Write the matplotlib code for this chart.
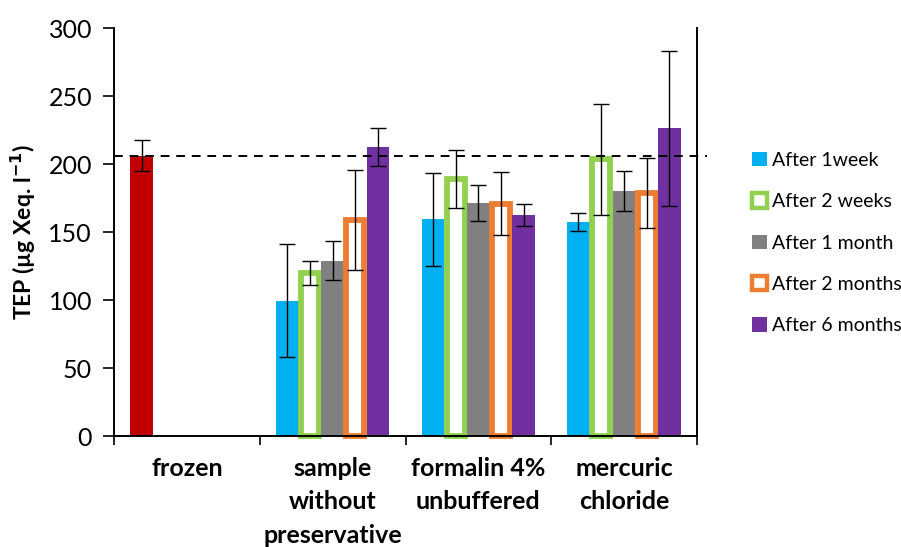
import matplotlib
matplotlib.use("Agg")
import matplotlib.pyplot as plt
from matplotlib.patches import Patch
import numpy as np

plt.rcParams['font.family'] = ['Lato', 'DejaVu Sans']

categories = ["frozen", "sample\nwithout\npreservative", "formalin 4%\nunbuffered", "mercuric\nchloride"]
series = ["After 1week", "After 2 weeks", "After 1 month", "After 2 months", "After 6 months"]
frozen_value = 206
frozen_err = 11.5
reference_line = 206
# values for the three preserved treatments (categories 1..3)
values = {
    "After 1week":    [99.5, 159.5, 157.2],
    "After 2 weeks":  [119.6, 189.0, 203.5],
    "After 1 month":  [129.0, 171.2, 180.4],
    "After 2 months": [158.8, 170.9, 178.4],
    "After 6 months": [212.5, 162.7, 226.2],
}
errors = {
    "After 1week":    [41.6, 34.2, 6.5],
    "After 2 weeks":  [8.8, 21.4, 40.7],
    "After 1 month":  [14.5, 13.3, 14.7],
    "After 2 months": [36.8, 23.0, 25.7],
    "After 6 months": [14.0, 8.1, 56.9],
}
colors = {
    "After 1week": "#00B0F0",
    "After 2 weeks": "#92D050",
    "After 1 month": "#808080",
    "After 2 months": "#ED7D31",
    "After 6 months": "#7030A0",
}
hollow = {"After 2 weeks", "After 2 months"}
frozen_color = "#C00000"
yticks = [0, 50, 100, 150, 200, 250, 300]

fig = plt.figure(figsize=(9.01, 5.47), dpi=100)
ax = fig.add_axes([114.3/901, 1-436/547, (696.7-114.3)/901, (436-28)/547])

bw = 0.156
ekw = dict(ecolor='black', elinewidth=1.0, capsize=5.5, capthick=1.0)

# frozen
ax.bar(0 - 2*bw, frozen_value, width=bw, color=frozen_color, zorder=2)
ax.errorbar(0 - 2*bw, frozen_value, yerr=frozen_err, fmt='none', zorder=4, **ekw)

xs = np.arange(1, 4)
handles = []
for i, s in enumerate(series):
    x = xs + (i - 2) * bw
    if s in hollow:
        ax.bar(x, values[s], width=bw*0.80, facecolor='white', edgecolor=colors[s],
               linewidth=4.2, zorder=2, clip_on=False)
        handles.append(Patch(facecolor='white', edgecolor=colors[s], linewidth=3.2, label=s))
    else:
        ax.bar(x, values[s], width=bw, color=colors[s], zorder=2)
        handles.append(Patch(facecolor=colors[s], edgecolor='none', label=s))
    ax.errorbar(x, values[s], yerr=errors[s], fmt='none', zorder=4, **ekw)

# reference dashed line
ax.plot([0, 1.018], [reference_line, reference_line], transform=ax.get_yaxis_transform(),
        color='black', linestyle=(0, (4.5, 3.5)), linewidth=1.4, clip_on=False, zorder=5)

ax.set_xlim(-0.5, 3.5)
ax.set_ylim(0, 300)
ax.set_yticks(yticks)
ax.set_yticklabels([str(v) for v in yticks], fontsize=18)
ax.tick_params(axis='y', direction='out', length=8, width=1.2, pad=8)

ax.set_xticks([-0.5, 0.5, 1.5, 2.5, 3.5])
ax.set_xticklabels([])
ax.tick_params(axis='x', which='major', direction='out', length=6.5, width=1.2)
ax.set_xticks([0, 1, 2, 3], minor=True)
ax.set_xticklabels(categories, minor=True, fontsize=18, fontweight='bold', linespacing=1.55)
ax.tick_params(axis='x', which='minor', length=0, pad=15)

ax.spines['top'].set_visible(False)
for sp in ['left', 'bottom', 'right']:
    ax.spines[sp].set_linewidth(1.4)

ax.set_ylabel("TEP (µg Xeq. l$^{\\mathbf{-1}}$)", fontsize=16.5, fontweight='bold')
ax.yaxis.set_label_coords(-(114.3-38)/582.4, (436-232)/408)

fig.legend(handles=handles, loc='upper left', bbox_to_anchor=(752/901, 1-152/547),
           frameon=False, fontsize=14, handlelength=0.75, handleheight=0.75,
           handletextpad=0.3, labelspacing=1.25, borderpad=0, borderaxespad=0)

fig.savefig("out.png", dpi=100)
